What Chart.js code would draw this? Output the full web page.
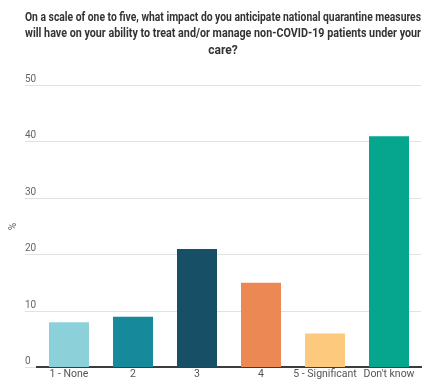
<!DOCTYPE html>
<html>
<head>
<meta charset="utf-8">
<script src="https://cdn.jsdelivr.net/npm/chart.js@4"></script>
<style>
  html, body { margin: 0; padding: 0; background: #fff; }
  #wrap { width: 430px; height: 384px; }
</style>
</head>
<body>
<div id="wrap"><canvas id="myChart"></canvas></div>
<script>
const categories = ['1 - None', '2', '3', '4', '5 - Significant', "Don't know"];
const values = [8, 9, 21, 15, 6, 41];
const barColors = ['#8cd0da', '#168a9b', '#174f66', '#ec8853', '#fdca7d', '#05a58e'];
const yTicks = [0, 10, 20, 30, 40, 50];
const titleLines = [
    'On a scale of one to five, what impact do you anticipate national quarantine measures',
    'will have on your ability to treat and/or manage non-COVID-19 patients under your',
    'care?'
];

// "%" axis label, drawn rotated on the left
const percentLabel = {
    id: 'percentLabel',
    afterDraw(chart) {
        const ctx = chart.ctx;
        const area = chart.chartArea;
        ctx.save();
        ctx.translate(13, (area.top + area.bottom) / 2);
        ctx.rotate(-Math.PI / 2);
        ctx.font = '10px Roboto';
        ctx.fillStyle = '#666';
        ctx.textAlign = 'center';
        ctx.textBaseline = 'middle';
        ctx.fillText('%', 0, 0);
        ctx.restore();
    }
};

const ctx = document.getElementById('myChart');
var mychart = new Chart(ctx, {
    type: 'bar',
    data: {
        labels: categories,
        datasets: [
            {
                label: '%',
                data: values,
                backgroundColor: barColors,
                borderWidth: 0,
                categoryPercentage: 1,
                barPercentage: 0.625
            }
        ]
    },
    options: {
        responsive: true,
        maintainAspectRatio: false,
        animation: false,
        layout: {
            padding: { left: 25, right: 9, top: 10, bottom: 2 }
        },
        plugins: {
            legend: { display: false },
            tooltip: { enabled: false },
            title: {
                display: true,
                text: titleLines,
                color: '#333',
                font: { family: 'Roboto', size: 12, weight: 'bold', lineHeight: 1.35 },
                padding: { top: 0, bottom: 27 }
            }
        },
        scales: {
            x: {
                grid: { display: false, drawTicks: false },
                border: { display: true, color: '#3a3d40', width: 2 },
                ticks: {
                    color: '#555',
                    font: { family: 'Roboto', size: 10.5 },
                    padding: 1,
                    maxRotation: 0,
                    autoSkip: false
                }
            },
            y: {
                min: 0,
                max: 50,
                afterBuildTicks(scale) {
                    scale.ticks = yTicks.map(v => ({ value: v }));
                },
                afterFit(scale) {
                    scale.width = 12;
                },
                grid: {
                    color: '#e2e2e2',
                    lineWidth: 1,
                    drawTicks: true,
                    tickLength: 12,
                    tickColor: '#e2e2e2'
                },
                border: { display: false },
                ticks: {
                    color: '#666',
                    font: { family: 'Roboto', size: 10 },
                    crossAlign: 'far',
                    labelOffset: -6,
                    padding: 0
                }
            }
        }
    },
    plugins: [percentLabel]
});
</script>
</body>
</html>
